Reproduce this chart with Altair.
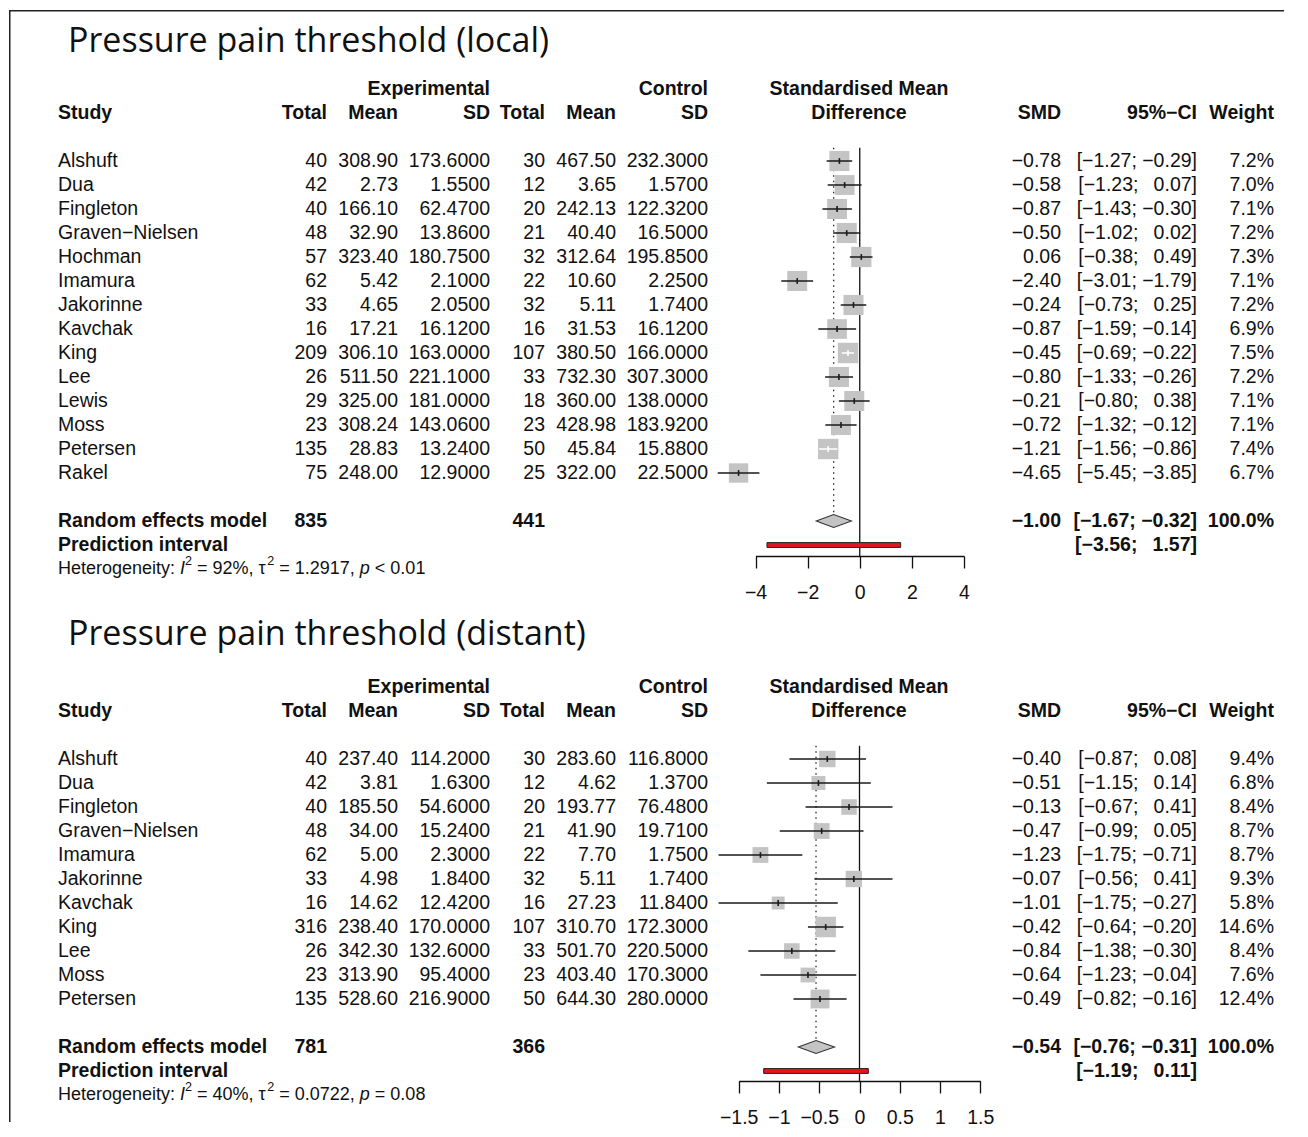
import math
import altair as alt
import pandas as pd

M = "\u2212"

# ---------------- Panel 1: local ----------------
title1 = "Pressure pain threshold (local)"
studies1 = ["Alshuft", "Dua", "Fingleton", "Graven\u2212Nielsen", "Hochman", "Imamura", "Jakorinne",
            "Kavchak", "King", "Lee", "Lewis", "Moss", "Petersen", "Rakel"]
e_total1 = [40, 42, 40, 48, 57, 62, 33, 16, 209, 26, 29, 23, 135, 75]
e_mean1 = [308.90, 2.73, 166.10, 32.90, 323.40, 5.42, 4.65, 17.21, 306.10, 511.50, 325.00, 308.24, 28.83, 248.00]
e_sd1 = [173.6, 1.55, 62.47, 13.86, 180.75, 2.10, 2.05, 16.12, 163.0, 221.1, 181.0, 143.06, 13.24, 12.90]
c_total1 = [30, 12, 20, 21, 32, 22, 32, 16, 107, 33, 18, 23, 50, 25]
c_mean1 = [467.50, 3.65, 242.13, 40.40, 312.64, 10.60, 5.11, 31.53, 380.50, 732.30, 360.00, 428.98, 45.84, 322.00]
c_sd1 = [232.3, 1.57, 122.32, 16.5, 195.85, 2.25, 1.74, 16.12, 166.0, 307.3, 138.0, 183.92, 15.88, 22.5]
smd1 = [-0.78, -0.58, -0.87, -0.50, 0.06, -2.40, -0.24, -0.87, -0.45, -0.80, -0.21, -0.72, -1.21, -4.65]
lo1 = [-1.27, -1.23, -1.43, -1.02, -0.38, -3.01, -0.73, -1.59, -0.69, -1.33, -0.80, -1.32, -1.56, -5.45]
hi1 = [-0.29, 0.07, -0.30, 0.02, 0.49, -1.79, 0.25, -0.14, -0.22, -0.26, 0.38, -0.12, -0.86, -3.85]
w1 = [7.2, 7.0, 7.1, 7.2, 7.3, 7.1, 7.2, 6.9, 7.5, 7.2, 7.1, 7.1, 7.4, 6.7]
re1 = dict(e_total=835, c_total=441, smd=-1.00, lo=-1.67, hi=-0.32, pi_lo=-3.56, pi_hi=1.57)
het1 = dict(i2="92%", tau2="1.2917", p="< 0.01")
ticks1 = [-4, -2, 0, 2, 4]
xdom1 = [-4, 4]

# ---------------- Panel 2: distant ----------------
title2 = "Pressure pain threshold (distant)"
studies2 = ["Alshuft", "Dua", "Fingleton", "Graven\u2212Nielsen", "Imamura", "Jakorinne", "Kavchak",
            "King", "Lee", "Moss", "Petersen"]
e_total2 = [40, 42, 40, 48, 62, 33, 16, 316, 26, 23, 135]
e_mean2 = [237.40, 3.81, 185.50, 34.00, 5.00, 4.98, 14.62, 238.40, 342.30, 313.90, 528.60]
e_sd2 = [114.2, 1.63, 54.6, 15.24, 2.3, 1.84, 12.42, 170.0, 132.6, 95.4, 216.9]
c_total2 = [30, 12, 20, 21, 22, 32, 16, 107, 33, 23, 50]
c_mean2 = [283.60, 4.62, 193.77, 41.90, 7.70, 5.11, 27.23, 310.70, 501.70, 403.40, 644.30]
c_sd2 = [116.8, 1.37, 76.48, 19.71, 1.75, 1.74, 11.84, 172.3, 220.5, 170.3, 280.0]
smd2 = [-0.40, -0.51, -0.13, -0.47, -1.23, -0.07, -1.01, -0.42, -0.84, -0.64, -0.49]
lo2 = [-0.87, -1.15, -0.67, -0.99, -1.75, -0.56, -1.75, -0.64, -1.38, -1.23, -0.82]
hi2 = [0.08, 0.14, 0.41, 0.05, -0.71, 0.41, -0.27, -0.20, -0.30, -0.04, -0.16]
w2 = [9.4, 6.8, 8.4, 8.7, 8.7, 9.3, 5.8, 14.6, 8.4, 7.6, 12.4]
re2 = dict(e_total=781, c_total=366, smd=-0.54, lo=-0.76, hi=-0.31, pi_lo=-1.19, pi_hi=0.11)
het2 = dict(i2="40%", tau2="0.0722", p="= 0.08")
ticks2 = [-1.5, -1, -0.5, 0, 0.5, 1, 1.5]
xdom2 = [-1.5, 1.5]

# ---------------- styling ----------------
FONT = "Liberation Sans"
TFONT = "Open Sans"
TFS = 34
FS = 19.5
HFS = 18
INK = "#111111"
GREY = "#c4c4c4"
W = 1275
SPACING = 44
ROWPX = 24
MAXSIDE = 20.5

# Helvetica/Arial advance widths (per 1000 em) for the heterogeneity line
AW = {' ': 278, '%': 889, ',': 278, '.': 278, ':': 278, '<': 584, '=': 584, 'H': 722, 'I': 278,
      'e': 556, 'g': 556, 'i': 222, 'n': 556, 'o': 556, 'p': 556, 'r': 333, 't': 278, 'y': 500,
      '\u03c4': 480}
for d in "0123456789":
    AW[d] = 556

dummy = pd.DataFrame({"k": [0]})


def fnum(v, d):
    s = f"{abs(v):.{d}f}"
    return (M + s) if v < 0 else s


def fci(lo, hi):
    lo_s = fnum(lo, 2) if lo < 0 else "\u2002" + fnum(lo, 2)
    hi_s = fnum(hi, 2) if hi < 0 else "\u2002" + fnum(hi, 2)
    return f"[{lo_s}; {hi_s}]"


def panel(title, studies, et, em, esd, ct, cm, csd, smd, lo, hi, w, re, het, ticks, xdom,
          xrng, y_first, height, title_y, left_top, left_bottom):
    n = len(studies)
    re_row, pi_row, het_row = n + 1, n + 2, n + 3
    ysc = alt.Scale(domain=[0, 1], range=[y_first, y_first + ROWPX], nice=False, zero=False)
    xsc = alt.Scale(domain=xdom, range=xrng, nice=False, zero=False)
    xax = alt.Axis(values=ticks, format="~g", tickSize=12, tickWidth=1.3, tickColor=INK,
                   domainColor=INK, domainWidth=1.3, labelFont=FONT, labelFontSize=FS,
                   labelColor=INK, labelPadding=15, grid=False, title=None,
                   labelFlush=False, labelOverlap=False)
    ppu = (xrng[1] - xrng[0]) / (xdom[1] - xdom[0])
    wmax = max(w)

    df = pd.DataFrame({
        "row": list(range(n)),
        "study": studies,
        "et": [str(v) for v in et],
        "em": [f"{v:.2f}" for v in em],
        "esd": [f"{v:.4f}" for v in esd],
        "ct": [str(v) for v in ct],
        "cm": [f"{v:.2f}" for v in cm],
        "csd": [f"{v:.4f}" for v in csd],
        "smd": [fnum(v, 2) for v in smd],
        "ci": [fci(a, b) for a, b in zip(lo, hi)],
        "wt": [f"{v:.1f}%" for v in w],
        "est": smd, "lo": lo, "hi": hi, "w": w,
    })
    df["ink"] = ["in" if (b - a) * ppu < MAXSIDE * math.sqrt(v / wmax) else "out"
                 for a, b, v in zip(lo, hi, w)]
    df["ta"] = df["row"] - 0.12
    df["tb"] = df["row"] + 0.12

    y = lambda f: alt.Y(f, scale=ysc, axis=None)
    x = lambda f: alt.X(f, scale=xsc, axis=xax)
    ink = alt.Color("ink:N", scale=alt.Scale(domain=["in", "out"], range=["white", "#1a1a1a"]),
                    legend=None)

    layers = []
    # frame (left edge)
    layers.append(alt.Chart(dummy).mark_rule(color="#222", strokeWidth=1.5).encode(
        x=alt.value(0.75), y=alt.value(left_top), y2=alt.value(left_bottom)))
    # reference lines
    ref = pd.DataFrame({"ref": [0.0], "top": [-0.55]})
    layers.append(alt.Chart(ref).mark_rule(color=INK, strokeWidth=1.3).encode(
        x=x("ref:Q"), y=y("top:Q"), y2=alt.value(height)))
    pooled = pd.DataFrame({"est": [re["smd"]], "top": [-0.55], "bot": [re_row - 0.27]})
    layers.append(alt.Chart(pooled).mark_rule(color=INK, strokeWidth=1.2, strokeDash=[1.5, 4]).encode(
        x=x("est:Q"), y=y("top:Q"), y2="bot:Q"))
    # squares (area proportional to weight)
    layers.append(alt.Chart(df).mark_square(color=GREY, opacity=1).encode(
        x=x("est:Q"), y=y("row:Q"),
        size=alt.Size("w:Q", scale=alt.Scale(domain=[0, wmax], range=[0, MAXSIDE ** 2]), legend=None)))
    # CI lines and estimate ticks
    layers.append(alt.Chart(df).mark_rule(strokeWidth=1.5).encode(
        x=x("lo:Q"), x2="hi:Q", y=y("row:Q"), color=ink))
    layers.append(alt.Chart(df).mark_rule(strokeWidth=1.6).encode(
        x=x("est:Q"), y=y("ta:Q"), y2="tb:Q", color=ink))
    # diamond
    dia = pd.DataFrame({"xv": [re["lo"], re["smd"], re["hi"]],
                        "ya": [re_row, re_row - 0.27, re_row],
                        "yb": [re_row, re_row + 0.27, re_row]})
    layers.append(alt.Chart(dia).mark_area(fill=GREY, stroke="#333", strokeWidth=1.1,
                                           orient="vertical", opacity=1).encode(
        x=x("xv:Q"), y=y("ya:Q"), y2="yb:Q"))
    # prediction interval
    pi = pd.DataFrame({"lo": [re["pi_lo"]], "hi": [re["pi_hi"]],
                       "ya": [pi_row - 0.1], "yb": [pi_row + 0.1]})
    layers.append(alt.Chart(pi).mark_rect(fill="#e8141c", stroke="#222", strokeWidth=1).encode(
        x=x("lo:Q"), x2="hi:Q", y=y("ya:Q"), y2="yb:Q"))

    # title
    layers.append(alt.Chart(dummy).mark_text(font=TFONT, fontSize=TFS, align="left", baseline="middle",
                                             color=INK).encode(
        x=alt.value(59), y=alt.value(title_y), text=alt.value(title)))

    # body columns
    cols = [("study", 49, "left"), ("et", 318, "right"), ("em", 389, "right"), ("esd", 481, "right"),
            ("ct", 536, "right"), ("cm", 607, "right"), ("csd", 699, "right"),
            ("smd", 1052, "right"), ("ci", 1188, "right"), ("wt", 1265, "right")]
    bold = {
        "study": [(-2, "Study"), (re_row, "Random effects model"), (pi_row, "Prediction interval")],
        "et": [(-2, "Total"), (re_row, str(re["e_total"]))],
        "em": [(-2, "Mean")],
        "esd": [(-3, "Experimental"), (-2, "SD")],
        "ct": [(-2, "Total"), (re_row, str(re["c_total"]))],
        "cm": [(-2, "Mean")],
        "csd": [(-3, "Control"), (-2, "SD")],
        "smd": [(-2, "SMD"), (re_row, fnum(re["smd"], 2))],
        "ci": [(-2, "95%\u2212CI"), (re_row, fci(re["lo"], re["hi"])), (pi_row, fci(re["pi_lo"], re["pi_hi"]))],
        "wt": [(-2, "Weight"), (re_row, "100.0%")],
        "center": [(-3, "Standardised Mean"), (-2, "Difference")],
    }
    for field, xp, al in cols:
        layers.append(alt.Chart(df).mark_text(align=al, baseline="middle", font=FONT, fontSize=FS,
                                              color=INK).encode(
            x=alt.value(xp), y=y("row:Q"), text=alt.Text(f"{field}:N")))
    xpos = {c[0]: (c[1], c[2]) for c in cols}
    xpos["center"] = (850, "center")
    for key, cells in bold.items():
        bdf = pd.DataFrame({"row": [c[0] for c in cells], "label": [c[1] for c in cells]})
        xp, al = xpos[key]
        layers.append(alt.Chart(bdf).mark_text(align=al, baseline="middle", font=FONT, fontSize=FS,
                                               fontWeight="bold", color=INK).encode(
            x=alt.value(xp), y=y("row:Q"), text=alt.Text("label:N")))

    # heterogeneity line with italic / superscript pieces
    parts = [("Heterogeneity: ", "n"), ("I", "i"), ("2", "s"), (f" = {het['i2']}, \u03c4", "n"),
             ("2", "s"), (f" = {het['tau2']}, ", "n"), ("p", "i"), (f" {het['p']}", "n")]
    hx = 49.0
    hrow = pd.DataFrame({"row": [het_row]})
    for txt, st in parts:
        fsz = HFS * 0.7 if st == "s" else HFS
        lead = len(txt) - len(txt.lstrip(" "))
        xs = hx + lead * AW[" "] / 1000 * fsz
        props = dict(align="left", baseline="middle", font=FONT, fontSize=fsz, color=INK)
        if st == "i":
            props["fontStyle"] = "italic"
        if st == "s":
            props["dy"] = -HFS * 0.42
        layers.append(alt.Chart(hrow).mark_text(**props).encode(
            x=alt.value(xs), y=y("row:Q"), text=alt.value(txt.strip())))
        hx += sum(AW.get(ch, 556) for ch in txt) / 1000 * fsz

    return alt.layer(*layers).properties(width=W, height=height)


h1 = 548
h2 = 481
p1 = panel(title1, studies1, e_total1, e_mean1, e_sd1, c_total1, c_mean1, c_sd1, smd1, lo1, hi1, w1,
           re1, het1, ticks1, xdom1, [746.5, 955.0], 153, h1, 34, 2.7, h1 + SPACING)
p2 = panel(title2, studies2, e_total2, e_mean2, e_sd2, c_total2, c_mean2, c_sd2, smd2, lo2, hi2, w2,
           re2, het2, ticks2, xdom2, [729.7, 971.3], 159, h2, 35, 0, 522)

top_line = alt.Chart(dummy).mark_rule(color="#222", strokeWidth=1.5).encode(
    x=alt.value(0), x2=alt.value(W), y=alt.value(2.7))
p1 = alt.layer(p1, top_line)

chart = alt.vconcat(p1, p2, spacing=SPACING, bounds="flush", padding=0).resolve_scale(
    x="independent", y="independent", size="independent", color="independent"
).configure_view(stroke=None)

chart.save("out.html", embed_options={"renderer": "svg", "actions": False})
